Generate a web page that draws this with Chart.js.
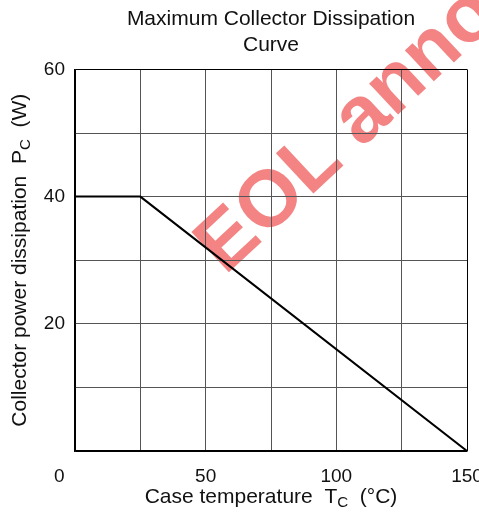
<!DOCTYPE html>
<html>
<head>
<meta charset="utf-8">
<script src="https://cdn.jsdelivr.net/npm/chart.js@4.4.0/dist/chart.umd.min.js"></script>
<style>
  html, body { margin: 0; padding: 0; background: #fff; }
  #wrap { width: 479px; height: 518px; }
</style>
</head>
<body>
<div id="wrap"><canvas id="chart"></canvas></div>
<script>
// Data
const caseTemp = [0, 25, 150];     // Tc (°C)
const powerDiss = [40, 40, 0];     // Pc (W)
const xLabels = [0, 50, 100, 150];
const yLabels = [20, 40, 60];

const FONT = 'Arial, "Liberation Sans", sans-serif';

// draw text with subscript pieces, centred on (x, y)
function drawRich(ctx, parts, x, y, size) {
    const widths = parts.map(p => {
        ctx.font = (p.sub ? size * 0.72 : size) + 'px ' + FONT;
        return ctx.measureText(p.t).width;
    });
    const total = widths.reduce((a, b) => a + b, 0);
    let cx = x - total / 2;
    ctx.textAlign = 'left';
    ctx.textBaseline = 'middle';
    parts.forEach((p, i) => {
        ctx.font = (p.sub ? size * 0.72 : size) + 'px ' + FONT;
        ctx.fillText(p.t, cx, p.sub ? y + size * 0.3 : y);
        cx += widths[i];
    });
}

const decor = {
    id: 'decor',
    beforeDraw(chart) {
        // watermark, under the grid
        const ctx = chart.ctx;
        ctx.save();
        ctx.translate(225, 276);
        ctx.rotate(-43 * Math.PI / 180);
        ctx.font = 'bold 80px ' + FONT;
        ctx.fillStyle = 'rgba(240, 85, 85, 0.72)';
        ctx.textAlign = 'left';
        ctx.textBaseline = 'alphabetic';
        ctx.fillText('EOL announced', 0, 0);
        ctx.restore();
    },
    afterDraw(chart) {
        const ctx = chart.ctx;
        const a = chart.chartArea;
        ctx.save();
        ctx.fillStyle = '#111';
        drawRich(ctx, [{t: 'Case temperature  T'}, {t: 'C', sub: true}, {t: '  (°C)'}],
            (a.left + a.right) / 2, 497, 21);
        ctx.translate(20, (a.top + a.bottom) / 2);
        ctx.rotate(-Math.PI / 2);
        drawRich(ctx, [{t: 'Collector power dissipation  P'}, {t: 'C', sub: true}, {t: '  (W)'}],
            0, 0, 21);
        ctx.restore();
    }
};

function gridColor(c, max) {
    const v = c.tick ? c.tick.value : null;
    return (v === 0 || v === max) ? '#000' : '#555';
}

new Chart(document.getElementById('chart'), {
    type: 'scatter',
    data: {
        datasets: [{
            data: caseTemp.map((t, i) => ({x: t, y: powerDiss[i]})),
            showLine: true,
            borderColor: '#000',
            borderWidth: 2,
            pointRadius: 0,
            tension: 0
        }]
    },
    options: {
        responsive: true,
        maintainAspectRatio: false,
        animation: false,
        layout: { padding: { left: 0, right: 12, top: 0, bottom: 0 } },
        plugins: {
            legend: { display: false },
            tooltip: { enabled: false },
            title: {
                display: true,
                fullSize: false,
                text: ['Maximum Collector Dissipation', 'Curve'],
                color: '#111',
                font: { family: FONT, size: 21, weight: 'normal', lineHeight: 1.2 },
                padding: { top: 7, bottom: 12 }
            }
        },
        scales: {
            x: {
                type: 'linear',
                min: 0,
                max: 150,
                afterFit(s) { s.height = 67; s.paddingRight = 0; s.paddingLeft = 0; },
                ticks: {
                    stepSize: 25,
                    autoSkip: false,
                    maxRotation: 0,
                    padding: 14,
                    color: '#111',
                    font: { family: FONT, size: 19 },
                    callback: v => xLabels.includes(v) ? (v === 0 ? '0      ' : String(v)) : ''
                },
                grid: { color: c => gridColor(c, 150), lineWidth: 1, drawTicks: false },
                border: { color: '#000', width: 1.5 }
            },
            y: {
                min: 0,
                max: 60,
                afterFit(s) { s.width = 75; },
                ticks: {
                    stepSize: 10,
                    autoSkip: false,
                    padding: 10,
                    color: '#111',
                    font: { family: FONT, size: 19 },
                    callback: v => yLabels.includes(v) ? String(v) : ''
                },
                grid: { color: c => gridColor(c, 60), lineWidth: 1, drawTicks: false },
                border: { color: '#000', width: 1.5 }
            }
        }
    },
    plugins: [decor]
});
</script>
</body>
</html>
